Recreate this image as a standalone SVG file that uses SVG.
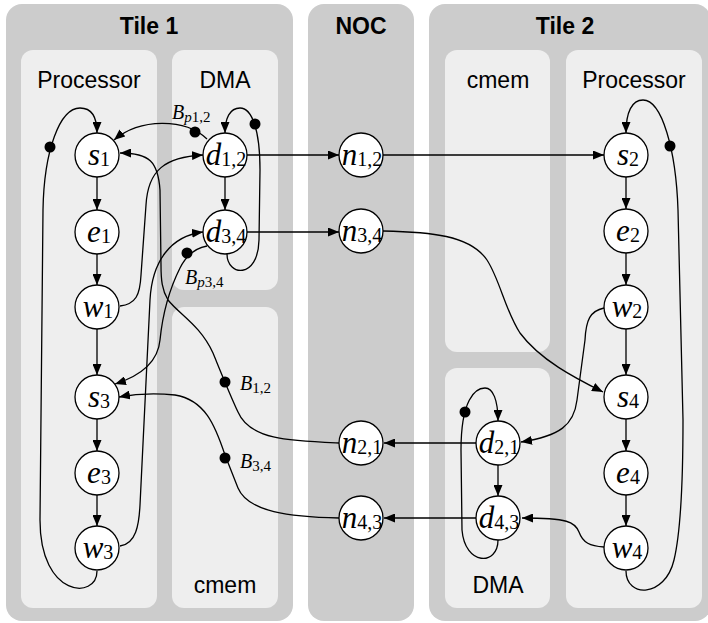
<svg xmlns="http://www.w3.org/2000/svg" width="708" height="623" viewBox="0 0 708 623">
<style>
.outer{fill:#cccccc}
.inner{fill:#eeeeee}
.title{font-family:"Liberation Sans",Arial,sans-serif;font-weight:bold;font-size:23px;text-anchor:middle;fill:#000}
.lbl{font-family:"Liberation Sans",Arial,sans-serif;font-size:23px;text-anchor:middle;fill:#000}
.node circle{fill:#fff;stroke:#000;stroke-width:1.3}
.node text{font-family:"Liberation Serif","Times New Roman",serif;font-style:italic;font-size:31px;text-anchor:middle;fill:#000}
.sub{font-style:normal;font-size:20px}
.edge{fill:none;stroke:#000;stroke-width:1.3;marker-end:url(#arr)}
.line{fill:none;stroke:#000;stroke-width:1.3}
.dot{fill:#000}
.blab{font-family:"Liberation Serif","Times New Roman",serif;font-style:italic;font-size:20px;fill:#000}
.bsub{font-size:15px}
.up{font-style:normal}
</style>
<defs>
<marker id="arr" viewBox="0 0 11 9" refX="11" refY="4.5" markerWidth="11" markerHeight="9" markerUnits="userSpaceOnUse" orient="auto">
<path d="M0,0 L11,4.5 L0,9 z" fill="#000"/>
</marker>
</defs>
<g id="background">
<rect class="outer" x="6" y="4" width="287" height="617" rx="16"/>
<rect class="outer" x="308" y="4" width="106" height="617" rx="16"/>
<rect class="outer" x="429" y="4" width="282" height="617" rx="16"/>
<rect class="inner" x="21" y="50" width="136" height="558" rx="12"/>
<rect class="inner" x="172" y="50" width="106" height="240" rx="12"/>
<rect class="inner" x="172" y="307" width="106" height="301" rx="12"/>
<rect class="inner" x="445" y="50" width="105" height="302" rx="12"/>
<rect class="inner" x="445" y="368" width="105" height="240" rx="12"/>
<rect class="inner" x="566" y="50" width="136" height="558" rx="12"/>
<text class="title" x="149" y="34">Tile 1</text>
<text class="title" x="361" y="34">NOC</text>
<text class="title" x="565" y="34">Tile 2</text>
<text class="lbl" x="89" y="88">Processor</text>
<text class="lbl" x="225" y="88">DMA</text>
<text class="lbl" x="225" y="593">cmem</text>
<text class="lbl" x="498" y="88">cmem</text>
<text class="lbl" x="634" y="88">Processor</text>
<text class="lbl" x="498" y="593">DMA</text>
</g>
<g id="connectors">
<path class="edge" d="M97,177 L97,210"/>
<path class="edge" d="M97,254 L97,285"/>
<path class="edge" d="M97,329 L97,375"/>
<path class="edge" d="M97,419 L97,451"/>
<path class="edge" d="M97,495 L97,526"/>
<path class="edge" d="M97,571 C97,600 40,598 40,520 L43,210 C44,150 60,108 80,108 C92,108 97,118 97,133"/>
<path class="edge" d="M225,177 L225,210"/>
<path class="edge" d="M227,254 C227,276 258,280 259,240 L260,170 C260,130 252,108 240,108 C230,108 225,118 225,133"/>
<path class="edge" d="M207,139 C185,118 140,118 114,140"/>
<path class="edge" d="M120,306 C136,304 140,295 141,275 L146,205 C148,170 165,157 203,155"/>
<path class="edge" d="M120,546 C136,544 139,525 140,505 L150,300 C152,262 170,236 203,232"/>
<path class="edge" d="M207,246 C196,248 186,256 180,268 C168,292 162,320 160,340 C158,362 140,376 115,384"/>
<path class="edge" d="M339,443 C290,441 250,440 238,412 C230,395 220,370 213,353 C200,325 180,315 168,300 C162,290 161,280 161,265 L160,190 C158,162 150,153 120,153"/>
<path class="edge" d="M339,518 C290,517 248,512 238,488 L225,455 C215,425 205,400 175,395 C155,393 135,394 119,397"/>
<path class="edge" d="M247,155 L339,155"/>
<path class="edge" d="M247,232 L339,232"/>
<path class="edge" d="M383,155 L604,155"/>
<path class="edge" d="M383,231 C430,232 470,235 487,260 C500,280 505,310 520,333 C540,360 575,378 603,392"/>
<path class="edge" d="M626,177 L626,209"/>
<path class="edge" d="M626,253 L626,285"/>
<path class="edge" d="M626,329 L626,375"/>
<path class="edge" d="M626,419 L626,451"/>
<path class="edge" d="M626,495 L626,526"/>
<path class="edge" d="M626,571 C626,598 665,598 674,560 C680,535 683,480 683,420 L678,210 C676,150 662,100 643,100 C632,100 626,112 626,133"/>
<path class="edge" d="M604,308 C590,311 586,320 585,340 L577,400 C574,425 560,436 521,442"/>
<path class="edge" d="M604,547 C590,546 583,543 579,532 C575,522 568,518 522,518"/>
<path class="edge" d="M476,443 L384,443"/>
<path class="edge" d="M476,518 L384,518"/>
<path class="edge" d="M498,465 L498,496"/>
<path class="edge" d="M498,540 C498,566 465,566 462,530 L461,450 C461,400 475,388 485,388 C493,388 498,400 498,421"/>
<circle class="dot" cx="50" cy="147" r="5.5"/>
<circle class="dot" cx="255" cy="124" r="5.5"/>
<circle class="dot" cx="195" cy="132" r="5.5"/>
<circle class="dot" cx="187" cy="253" r="5.5"/>
<circle class="dot" cx="225" cy="382" r="5.5"/>
<circle class="dot" cx="225" cy="458" r="5.5"/>
<circle class="dot" cx="670" cy="146" r="5.5"/>
<circle class="dot" cx="465" cy="412" r="5.5"/>
<text class="blab" x="172" y="119">B<tspan class="bsub" dy="3">p<tspan class="up">1,2</tspan></tspan></text>
<text class="blab" x="185" y="284">B<tspan class="bsub" dy="3">p<tspan class="up">3,4</tspan></tspan></text>
<text class="blab" x="240" y="390">B<tspan class="bsub up" dy="3">1,2</tspan></text>
<text class="blab" x="240" y="468">B<tspan class="bsub up" dy="3">3,4</tspan></text>
</g>
<g id="s1" class="node"><circle cx="97" cy="155" r="22"/><text x="99" y="165">s<tspan class="sub" dy="1">1</tspan></text></g>
<g id="e1" class="node"><circle cx="97" cy="232" r="22"/><text x="99" y="242">e<tspan class="sub" dy="1">1</tspan></text></g>
<g id="w1" class="node"><circle cx="97" cy="307" r="22"/><text x="98" y="317">w<tspan class="sub" dy="1">1</tspan></text></g>
<g id="s3" class="node"><circle cx="97" cy="397" r="22"/><text x="99" y="407">s<tspan class="sub" dy="1">3</tspan></text></g>
<g id="e3" class="node"><circle cx="97" cy="473" r="22"/><text x="99" y="483">e<tspan class="sub" dy="1">3</tspan></text></g>
<g id="w3" class="node"><circle cx="97" cy="548" r="22"/><text x="98" y="558">w<tspan class="sub" dy="1">3</tspan></text></g>
<g id="d12" class="node"><circle cx="225" cy="155" r="22"/><text x="226" y="165">d<tspan class="sub" dy="1">1,2</tspan></text></g>
<g id="d34" class="node"><circle cx="225" cy="232" r="22"/><text x="226" y="242">d<tspan class="sub" dy="1">3,4</tspan></text></g>
<g id="n12" class="node"><circle cx="361" cy="155" r="22"/><text x="362" y="165">n<tspan class="sub" dy="1">1,2</tspan></text></g>
<g id="n34" class="node"><circle cx="361" cy="231" r="22"/><text x="362" y="241">n<tspan class="sub" dy="1">3,4</tspan></text></g>
<g id="n21" class="node"><circle cx="361" cy="443" r="22"/><text x="362" y="453">n<tspan class="sub" dy="1">2,1</tspan></text></g>
<g id="n43" class="node"><circle cx="361" cy="518" r="22"/><text x="362" y="528">n<tspan class="sub" dy="1">4,3</tspan></text></g>
<g id="s2" class="node"><circle cx="626" cy="155" r="22"/><text x="628" y="165">s<tspan class="sub" dy="1">2</tspan></text></g>
<g id="e2" class="node"><circle cx="626" cy="231" r="22"/><text x="628" y="241">e<tspan class="sub" dy="1">2</tspan></text></g>
<g id="w2" class="node"><circle cx="626" cy="307" r="22"/><text x="627" y="317">w<tspan class="sub" dy="1">2</tspan></text></g>
<g id="s4" class="node"><circle cx="626" cy="397" r="22"/><text x="628" y="407">s<tspan class="sub" dy="1">4</tspan></text></g>
<g id="e4" class="node"><circle cx="626" cy="473" r="22"/><text x="628" y="483">e<tspan class="sub" dy="1">4</tspan></text></g>
<g id="w4" class="node"><circle cx="626" cy="548" r="22"/><text x="627" y="558">w<tspan class="sub" dy="1">4</tspan></text></g>
<g id="d21" class="node"><circle cx="498" cy="443" r="22"/><text x="499" y="453">d<tspan class="sub" dy="1">2,1</tspan></text></g>
<g id="d43" class="node"><circle cx="498" cy="518" r="22"/><text x="499" y="528">d<tspan class="sub" dy="1">4,3</tspan></text></g>
</svg>
